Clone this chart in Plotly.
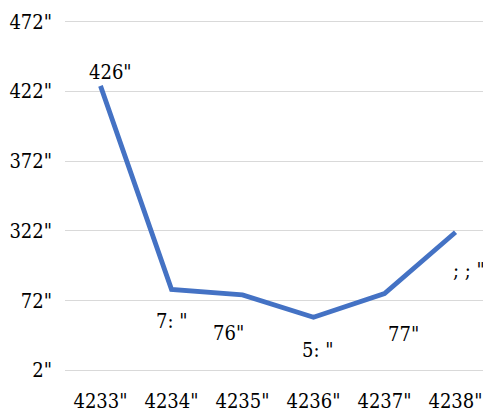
import plotly.graph_objects as go

categories = ["4233\"", "4234\"", "4235\"", "4236\"", "4237\"", "4238\""]
values = [204, 58, 54, 38, 55, 99]
point_labels = ["426\"", "7: \"", "76\"", "5: \"", "77\"", "; ; \""]
y_tick_vals = [0, 50, 100, 150, 200, 250]
y_tick_text = ["2\"", "72\"", "322\"", "372\"", "422\"", "472\""]
# label offsets (pixels) relative to each point
label_dx = [10, 0, -14, 4, 19, 13]
label_dy = [14, -32, -38, -33, -40, -38]

font_family = "DejaVu Serif Condensed, DejaVu Serif"
fsize = 20

fig = go.Figure()
fig.add_trace(go.Scatter(
    x=categories, y=values, mode="lines",
    line=dict(color="#4472C4", width=4.8),
    hoverinfo="skip", showlegend=False,
))

for c, v, t, dx, dy in zip(categories, values, point_labels, label_dx, label_dy):
    fig.add_annotation(x=c, y=v, text=t, showarrow=False,
                       xshift=dx, yshift=dy,
                       font=dict(family=font_family, size=fsize, color="#000000"))

fig.update_layout(
    width=491, height=412,
    margin=dict(l=57, r=8, t=12, b=48, autoexpand=False),
    paper_bgcolor="white", plot_bgcolor="white",
    font=dict(family=font_family, size=fsize, color="#000000"),
)
fig.update_xaxes(type="category", range=[-0.5, 5.5], autorange=False,
                 showgrid=False, zeroline=False, showline=False,
                 ticks="", tickfont=dict(family=font_family, size=fsize),
                 ticklabelstandoff=15, automargin=False)
fig.update_yaxes(range=[-1.3, 251.3], autorange=False,
                 tickvals=y_tick_vals, ticktext=y_tick_text,
                 showgrid=True, gridcolor="#D9D9D9", gridwidth=1,
                 zeroline=False, showline=False, ticks="",
                 tickfont=dict(family=font_family, size=fsize),
                 ticklabelstandoff=12, automargin=False)

fig.write_html("out.html")
